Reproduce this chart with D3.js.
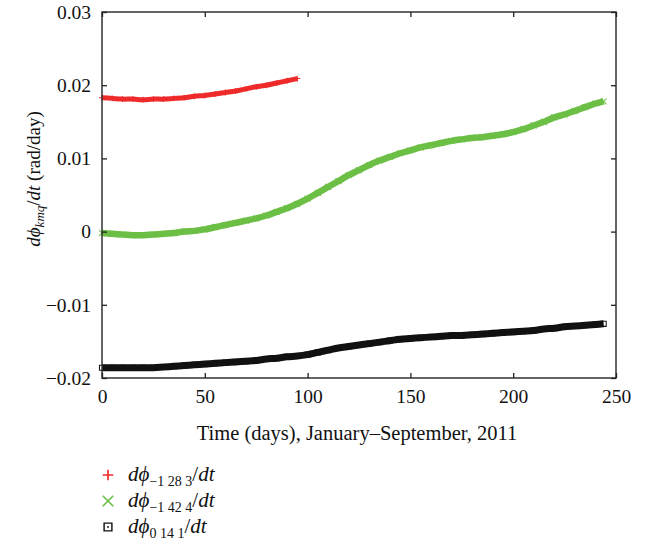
<!DOCTYPE html>
<html>
<head>
<meta charset="utf-8">
<script src="https://cdn.jsdelivr.net/npm/d3@7"></script>
<style>
  body { margin: 0; background: #fff; }
  text { font-family: "Liberation Serif", "DejaVu Serif", serif; fill: #111; }
</style>
</head>
<body>
<div id="chart"></div>
<script>
const margin = {top: 12, right: 31, bottom: 166, left: 102};
const width = 647 - margin.left - margin.right;
const height = 544 - margin.top - margin.bottom;

const redDays = [0, 5, 10, 15, 20, 25, 30, 35, 40, 45, 50, 55, 60, 65, 70, 75, 80, 85, 90, 95];
const redValues = [0.0183, 0.0182, 0.0181, 0.0181, 0.0180, 0.0181, 0.0181, 0.0182, 0.0183, 0.0185,
                   0.0186, 0.0188, 0.0190, 0.0192, 0.0195, 0.0198, 0.0200, 0.0203, 0.0206, 0.0209];

const longDays = [0, 5, 10, 15, 20, 25, 30, 35, 40, 45, 50, 55, 60, 65, 70, 75, 80, 85, 90, 95,
                  100, 105, 110, 115, 120, 125, 130, 135, 140, 145, 150, 155, 160, 165, 170, 175,
                  180, 185, 190, 195, 200, 205, 210, 215, 220, 225, 230, 235, 240, 244];
const greenValues = [-0.0002, -0.0003, -0.0004, -0.0005, -0.0005, -0.0004, -0.0003, -0.0002, 0.0000, 0.0001,
                     0.0003, 0.0006, 0.0009, 0.0012, 0.0015, 0.0018, 0.0022, 0.0027, 0.0032, 0.0038,
                     0.0045, 0.0053, 0.0061, 0.0069, 0.0077, 0.0084, 0.0091, 0.0097, 0.0102, 0.0107,
                     0.0111, 0.0115, 0.0118, 0.0121, 0.0124, 0.0126, 0.0128, 0.0129, 0.0131, 0.0133,
                     0.0136, 0.0140, 0.0145, 0.0150, 0.0156, 0.0160, 0.0165, 0.0170, 0.0175, 0.0178];
const blackValues = [-0.0186, -0.0186, -0.0186, -0.0186, -0.0186, -0.0186, -0.0185, -0.0184, -0.0183, -0.0182,
                     -0.0181, -0.0180, -0.0179, -0.0178, -0.0177, -0.0176, -0.0174, -0.0173, -0.0171, -0.0170,
                     -0.0168, -0.0165, -0.0162, -0.0159, -0.0157, -0.0155, -0.0153, -0.0151, -0.0149, -0.0147,
                     -0.0146, -0.0145, -0.0144, -0.0143, -0.0142, -0.0142, -0.0141, -0.0140, -0.0139, -0.0138,
                     -0.0137, -0.0136, -0.0135, -0.0133, -0.0132, -0.0130, -0.0129, -0.0128, -0.0127, -0.0126];

const xTicks = [0, 50, 100, 150, 200, 250];
const yTicks = [-0.02, -0.01, 0, 0.01, 0.02, 0.03];
const yTickLabels = ["\u22120.02", "\u22120.01", "0", "0.01", "0.02", "0.03"];

const series = [
    {days: redDays, values: redValues, color: "#ee2a2a", marker: "plus", sub: "\u22121 28 3", band: 5},
    {days: longDays, values: greenValues, color: "#6cbf45", marker: "cross", sub: "\u22121 42 4", band: 6.5},
    {days: longDays, values: blackValues, color: "#111111", marker: "square", sub: "0 14 1", band: 7}
];

const svg = d3.select("#chart")
    .append("svg")
    .attr("width", 647)
    .attr("height", 544);

const g = svg.append("g")
    .attr("transform", `translate(${margin.left},${margin.top})`);

const x = d3.scaleLinear().domain([0, 250]).range([0, width]);
const y = d3.scaleLinear().domain([-0.02, 0.03]).range([height, 0]);

// marker shapes
function markerPath(type) {
    if (type === "plus") return "M-3.5,0H3.5M0,-3.5V3.5";
    if (type === "cross") return "M-3.5,-3.5L3.5,3.5M-3.5,3.5L3.5,-3.5";
    return "M-3,-3H3V3H-3Z";
}

const line = d3.line()
    .x(d => d[0])
    .y(d => d[1])
    .curve(d3.curveCatmullRom);

series.forEach(s => {
    const pts = s.days.map((d, i) => [x(d), y(s.values[i])]);
    g.append("path")
        .datum(pts)
        .attr("fill", "none")
        .attr("stroke", s.color)
        .attr("stroke-width", s.band)
        .attr("d", line);
    g.selectAll(null)
        .data(pts)
        .enter()
        .append("path")
        .attr("transform", d => `translate(${d[0]},${d[1]}) scale(0.85)`)
        .attr("d", markerPath(s.marker))
        .attr("fill", "none")
        .attr("stroke", s.color)
        .attr("stroke-width", 1.2);
});

// frame
g.append("rect")
    .attr("width", width)
    .attr("height", height)
    .attr("fill", "none")
    .attr("stroke", "#333")
    .attr("stroke-width", 1.5);

// axes, ticks pointing inward
const xAxis = g.append("g")
    .attr("transform", `translate(0,${height})`)
    .call(d3.axisBottom(x).tickValues(xTicks).tickSize(-5).tickPadding(11).tickFormat(d3.format("d")));
const xAxisTop = g.append("g")
    .call(d3.axisTop(x).tickValues(xTicks).tickSize(-5).tickFormat(""));
const yAxis = g.append("g")
    .call(d3.axisLeft(y).tickValues(yTicks).tickSize(-5).tickPadding(11)
        .tickFormat((d, i) => yTickLabels[i]));
const yAxisRight = g.append("g")
    .attr("transform", `translate(${width},0)`)
    .call(d3.axisRight(y).tickValues(yTicks).tickSize(-5).tickFormat(""));

[xAxis, xAxisTop, yAxis, yAxisRight].forEach(a => {
    a.select(".domain").remove();
    a.selectAll(".tick line").attr("stroke", "#222").attr("stroke-width", 1.3);
    a.selectAll(".tick text")
        .attr("font-family", "Liberation Serif")
        .attr("font-size", "19.5px")
        .attr("fill", "#111");
});

// x label
g.append("text")
    .attr("x", width / 2 - 2)
    .attr("y", height + 62)
    .attr("text-anchor", "middle")
    .attr("font-size", "20.5px")
    .text("Time (days), January\u2013September, 2011");

// y label
const yl = svg.append("text")
    .attr("transform", `translate(40,${margin.top + height / 2 - 16}) rotate(-90)`)
    .attr("text-anchor", "middle")
    .attr("font-size", "19px");
yl.append("tspan").attr("font-style", "italic").text("d\u03d5");
yl.append("tspan").attr("font-style", "italic").attr("font-size", "13px").attr("dy", 4).text("kmq");
yl.append("tspan").attr("dy", -4).text("/");
yl.append("tspan").attr("font-style", "italic").text("dt");
yl.append("tspan").text(" (rad/day)");

// legend
const legend = svg.append("g")
    .attr("transform", "translate(108,475)");

series.forEach((s, i) => {
    const row = legend.append("g").attr("transform", `translate(0,${i * 26})`);
    row.append("path")
        .attr("d", markerPath(s.marker))
        .attr("transform", s.marker === "square" ? "scale(1.3)" : "scale(1.5)")
        .attr("fill", "none")
        .attr("stroke", s.color)
        .attr("stroke-width", 1.1);
    if (s.marker === "square") {
        row.append("circle").attr("r", 0.9).attr("fill", s.color);
    }
    const t = row.append("text")
        .attr("x", 20)
        .attr("y", 6)
        .attr("font-size", "21px");
    t.append("tspan").attr("font-style", "italic").text("d\u03d5");
    t.append("tspan").attr("font-size", "14px").attr("dy", 5).text(s.sub);
    t.append("tspan").attr("dy", -5).text("/");
    t.append("tspan").attr("font-style", "italic").text("dt");
});
</script>
</body>
</html>
